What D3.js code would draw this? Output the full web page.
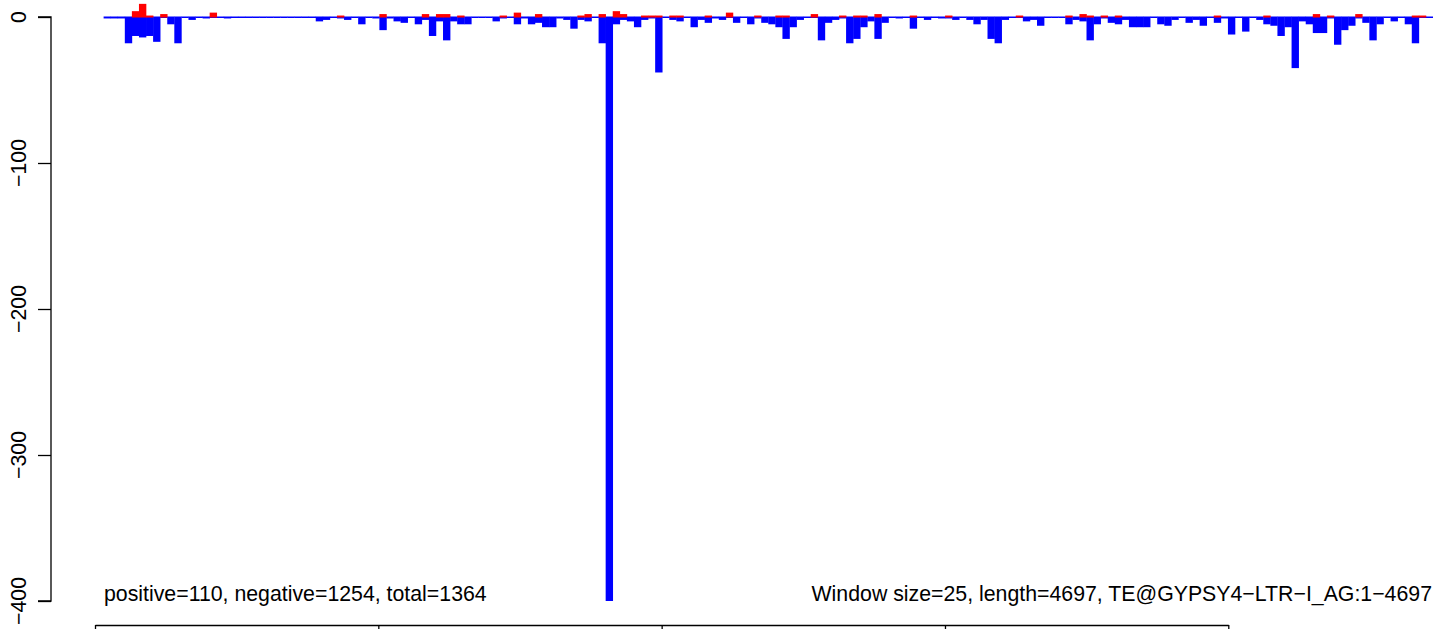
<!DOCTYPE html>
<html><head><meta charset="utf-8">
<script src="https://cdn.jsdelivr.net/npm/d3@7"></script>
<style>body{margin:0;background:#fff}svg{display:block}text{font-family:"Liberation Sans",Arial,sans-serif;fill:#000}</style>
</head><body>
<script>
// window size 25, 188 windows
const negative = [-1,-1,-1,-18,-13,-14,-13,-17,0,-5,-18,0,-2,0,-1,0,0,-1,0,0,0,0,0,0,0,0,0,0,0,0,-3,
-2,0,-1,-2,0,-5,0,-1,-9,-1,-3,-4,0,-5,-2,-13,-3,-16,-3,-5,-5,0,0,0,-3,-1,0,-5,-1,-5,-4,-7,
-7,-1,-2,-8,-2,-3,0,-18,-400,-5,-2,-3,-7,-2,-1,-38,0,-2,-3,0,-7,-2,-4,-1,-2,0,-4,0,-5,-1,-4,-5,
-7,-15,-7,-2,0,0,-16,-4,-2,-1,-18,-15,-7,-3,-15,-4,0,-1,0,-8,0,-2,0,-1,-1,-2,0,-2,-5,-2,-15,-18,
-2,0,0,-3,-2,-6,0,0,0,-5,-2,-3,-16,-5,-1,-4,-5,-2,-7,-7,-7,0,-5,-6,-2,0,-4,-2,-6,0,-4,
-1,-12,0,-10,0,-2,-5,-6,-13,-7,-35,-3,-5,-11,-11,-1,-19,-9,-6,-1,-4,-16,-5,0,-3,0,-5,-18,0,0];
const positive = [0,0,0,0,4,9,1,0,2,0,0,0,0,0,0,3,0,0,0,0,0,0,0,0,0,0,0,0,0,0,0,
0,0,1,0,0,0,0,0,2,0,0,0,0,0,2,0,2,2,0,1,0,0,0,0,0,1,0,3,0,0,2,0,
0,0,0,0,1,2,0,2,0,4,2,0,0,1,1,1,0,1,1,0,0,0,1,0,0,3,0,0,0,1,0,0,
1,1,0,0,0,2,0,0,0,1,0,1,1,0,2,0,0,0,0,1,0,0,0,0,1,0,0,0,0,0,0,
0,0,0,1,0,0,0,0,0,0,1,0,2,1,0,1,0,1,0,0,0,0,0,0,0,0,0,0,0,0,0,
1,0,0,0,0,0,0,1,0,0,0,0,0,0,2,0,1,0,0,0,2,0,0,0,0,0,0,0,1,1];
const yTicks = [0,-100,-200,-300,-400];
const xTicks = [0,1000,2000,3000,4000];
const leftLabel = "positive=110, negative=1254, total=1364";
const rightLabel = "Window size=25, length=4697, TE@GYPSY4\u2212LTR\u2212I_AG:1\u22124697";

const W = 1433, H = 629;
const svg = d3.select("body").append("svg").attr("width", W).attr("height", H);
const n = negative.length;
const x = d3.scaleLinear().domain([0, n]).range([103.6, 1433]);
const y = d3.scaleLinear().domain([0, -400]).range([17, 601]);
const y0 = y(0);

// blue negative bars
svg.append("g").selectAll("rect").data(negative).join("rect")
  .attr("x", (d, i) => x(i)).attr("width", (d, i) => x(i + 1) - x(i) + 0.3)
  .attr("y", y0 - 0.5)
  .attr("height", d => Math.max(y(d) - y0, 1) + 0.5)
  .attr("fill", "#0000FF");
// red positive bars
svg.append("g").selectAll("rect").data(positive.map((v, i) => ({v, i})).filter(d => d.v > 0)).join("rect")
  .attr("x", d => x(d.i)).attr("width", d => x(d.i + 1) - x(d.i) + 0.3)
  .attr("y", d => y(d.v))
  .attr("height", d => y0 - y(d.v) + 0.5)
  .attr("fill", "#FF0000");

// y axis
const yAxis = svg.append("g").attr("transform", "translate(51,0)")
  .call(d3.axisLeft(y).tickValues(yTicks).tickSize(13).tickFormat(""));
yAxis.select(".domain").attr("stroke", "#000").attr("stroke-width", 1.3).attr("d", `M-13,${y(0)}H0V${y(-400)}H-13`);
yAxis.selectAll(".tick line").attr("stroke", "#000").attr("stroke-width", 1.3);
svg.append("g").selectAll("text").data(yTicks).join("text")
  .attr("transform", d => `translate(26,${y(d)}) rotate(-90)`)
  .attr("text-anchor", "middle").style("font-size", "21.3px")
  .text(d => d === 0 ? "0" : "\u2212" + Math.abs(d));

// bottom axis (only its top edge is visible; labels fall below the picture)
const xb = d3.scaleLinear().domain([0, 4000]).range([95, 1228.3]);
const xAxis = svg.append("g").attr("transform", "translate(0,625)")
  .call(d3.axisBottom(xb).tickValues(xTicks).tickSize(10).tickSizeOuter(0).tickFormat(""));
xAxis.select(".domain").attr("stroke", "#000").attr("stroke-width", 1.3);
xAxis.selectAll(".tick line").attr("stroke", "#000").attr("stroke-width", 1.3);

// annotations
svg.append("text").attr("x", 104).attr("y", 601).style("font-size", "21.3px").text(leftLabel);
svg.append("text").attr("x", 1432).attr("y", 601).attr("text-anchor", "end").style("font-size", "21.3px").text(rightLabel);
</script>
</body></html>
